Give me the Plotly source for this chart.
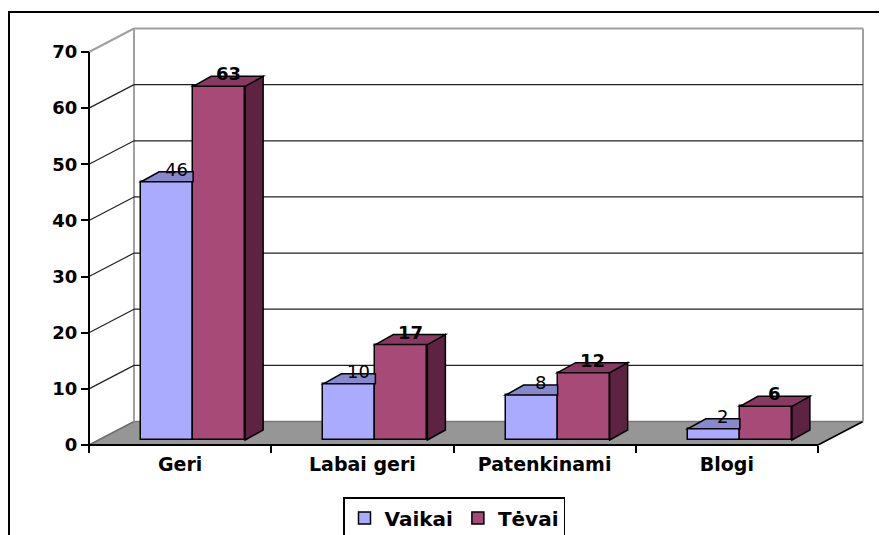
import plotly.graph_objects as go

# ---------------- data ----------------
categories = ["Geri", "Labai geri", "Patenkinami", "Blogi"]
vaikai = [46, 10, 8, 2]
tevai = [63, 17, 12, 6]
series_names = ["Vaikai", "Tėvai"]
y_ticks = [0, 10, 20, 30, 40, 50, 60, 70]

# ---------------- geometry (page pixels; the page body has an 8px margin) ----------------
OFF = 8
W, H = 887 - OFF, 590                        # figure size (bottom part is outside the window)
PL, PR, PT, PB = 15, 882, 14, 585          # plot area in page pixels
FX0, FX1 = 89, 818                          # front plane x of first/last category edge
FY0, FYTOP = 445, 52                        # front plane y of 0 and of top tick
n = len(categories)
sx = (FX1 - FX0) / n
sy = (FY0 - FYTOP) / y_ticks[-1]
xr = [(PL - FX0) / sx, (PR - FX0) / sx]
yr = [(FY0 - PB) / sy, (FY0 - PT) / sy]


def ux(px):
    return px / sx


def uy(px):
    return px / sy


def paper_x(px):
    return (px - PL) / (PR - PL)


def paper_y(py):
    return (PB - py) / (PB - PT)


WALL_DX, WALL_DY = ux(45), uy(23.5)
BAR_OFF_X, BAR_OFF_Y = ux(13), uy(5)
BAR_DX, BAR_DY = ux(18), uy(10)
BAR_W = ux(52)

FONT = "DejaVu Sans"
C_V_FRONT, C_V_TOP, C_V_SIDE = "#aaaaff", "#8888cc", "#55558a"
C_T_FRONT, C_T_TOP, C_T_SIDE = "#a84a78", "#8a3a62", "#5e2342"
GRAY_LINE = "#a0a0a0"
FLOOR = "#969696"

fig = go.Figure()

xs = [i + 0.5 + BAR_OFF_X for i in range(n)]
fig.add_bar(x=xs, y=vaikai, base=BAR_OFF_Y, width=BAR_W, offset=-BAR_W,
            name=series_names[0],
            marker=dict(color=C_V_FRONT, line=dict(color="black", width=1.5)))
fig.add_bar(x=xs, y=tevai, base=BAR_OFF_Y, width=BAR_W, offset=0,
            name=series_names[1],
            marker=dict(color=C_T_FRONT, line=dict(color="black", width=1.5)))

shapes = []


def poly(pts, fill, line_color="black", width=1.5, layer="above"):
    d = "M " + " L ".join(f"{x},{y}" for x, y in pts) + " Z"
    return dict(type="path", path=d, xref="x", yref="y", fillcolor=fill,
                line=dict(color=line_color, width=width), layer=layer)


def seg(x0, y0, x1, y1, color, width, layer="below"):
    return dict(type="line", x0=x0, y0=y0, x1=x1, y1=y1, xref="x", yref="y",
                line=dict(color=color, width=width), layer=layer)


# floor
shapes.append(poly([(0, 0), (n, 0), (n + WALL_DX, WALL_DY), (WALL_DX, WALL_DY)],
                   FLOOR, line_color=FLOOR, width=0.5, layer="below"))
shapes.append(seg(WALL_DX, WALL_DY, n + WALL_DX, WALL_DY, "#7a7a7a", 1.5))
shapes.append(seg(0, 0, WALL_DX, WALL_DY, "#6e6e6e", 1.5))
shapes.append(seg(n, 0, n + WALL_DX, WALL_DY, "black", 1.5))

# walls
top = y_ticks[-1]
shapes.append(seg(WALL_DX, WALL_DY, WALL_DX, top + WALL_DY, GRAY_LINE, 2))
shapes.append(seg(n + WALL_DX, WALL_DY, n + WALL_DX, top + WALL_DY, GRAY_LINE, 2))
for v in y_ticks[1:]:
    col, wd = ("#222222", 1.2) if v != top else (GRAY_LINE, 2)
    shapes.append(seg(WALL_DX, v + WALL_DY, n + WALL_DX, v + WALL_DY, col, wd))
    shapes.append(seg(0, v, WALL_DX, v + WALL_DY, col, wd))

# front axis lines
shapes.append(seg(0, 0, 0, top, "black", 2, layer="above"))
shapes.append(seg(0, 0, n, 0, "black", 2, layer="above"))

annotations = []
for i in range(n):
    xb = xs[i]
    b = BAR_OFF_Y
    # Vaikai bar faces
    tv = b + vaikai[i]
    x0, x1 = xb - BAR_W, xb
    if tevai[i] >= vaikai[i] + BAR_DY:
        shapes.append(poly([(x0, tv), (x0 + BAR_DX, tv + BAR_DY), (x1, tv + BAR_DY), (x1, tv)], C_V_TOP))
    else:
        shapes.append(poly([(x1, b), (x1 + BAR_DX, b + BAR_DY), (x1 + BAR_DX, tv + BAR_DY), (x1, tv)], C_V_SIDE))
        shapes.append(poly([(x0, tv), (x0 + BAR_DX, tv + BAR_DY), (x1 + BAR_DX, tv + BAR_DY), (x1, tv)], C_V_TOP))
    # Tevai bar faces
    tt = b + tevai[i]
    t0, t1 = xb, xb + BAR_W
    shapes.append(poly([(t1, b), (t1 + BAR_DX, b + BAR_DY), (t1 + BAR_DX, tt + BAR_DY), (t1, tt)], C_T_SIDE))
    shapes.append(poly([(t0, tt), (t0 + BAR_DX, tt + BAR_DY), (t1 + BAR_DX, tt + BAR_DY), (t1, tt)], C_T_TOP))

    annotations.append(dict(x=(x0 + x1) / 2 + BAR_DX / 2, y=tv + BAR_DY / 2, xref="x", yref="y",
                            text=str(vaikai[i]), showarrow=False, yanchor="bottom", yshift=-5,
                            font=dict(family=FONT, size=18, color="black")))
    annotations.append(dict(x=(t0 + t1) / 2 + BAR_DX / 2, y=tt + BAR_DY / 2, xref="x", yref="y",
                            text=f"<b>{tevai[i]}</b>", showarrow=False, yanchor="bottom", yshift=-5,
                            font=dict(family=FONT, size=18, color="black")))

# outer chart border
shapes.append(dict(type="rect", xref="paper", yref="paper",
                   x0=paper_x(9), y0=paper_y(580), x1=paper_x(905), y1=paper_y(12),
                   line=dict(color="black", width=2), fillcolor="rgba(0,0,0,0)", layer="above"))

fig.update_layout(
    width=W, height=H,
    margin=dict(l=PL - OFF, r=W - (PR - OFF), t=PT - OFF, b=H - (PB - OFF), pad=0, autoexpand=False),
    paper_bgcolor="white", plot_bgcolor="white",
    barmode="overlay", bargap=0,
    shapes=shapes, annotations=annotations,
    showlegend=True,
    legend=dict(orientation="h", x=paper_x(343), xanchor="left", y=paper_y(497), yanchor="top",
                bordercolor="black", borderwidth=1.5, bgcolor="white",
                font=dict(family=FONT, size=20, color="black", weight="bold"),
                itemclick=False, itemdoubleclick=False),
    xaxis=dict(range=xr, anchor="free", position=paper_y(FY0), showgrid=False, zeroline=False,
               showline=False, tickvals=[i + 0.5 for i in range(n)], ticktext=categories,
               ticks="", tickfont=dict(family=FONT, size=19, color="black", weight="bold"),
               ticklabelstandoff=6,
               minor=dict(tickvals=list(range(n + 1)), ticks="outside", ticklen=7,
                          tickcolor="black", tickwidth=1.5, showgrid=False)),
    yaxis=dict(range=yr, anchor="free", position=paper_x(FX0), showgrid=False, zeroline=False,
               showline=False, tickvals=y_ticks, ticks="outside", ticklen=8, tickcolor="black",
               tickwidth=1.5, tickfont=dict(family=FONT, size=18, color="black", weight="bold")),
)

fig.write_html("out.html")
